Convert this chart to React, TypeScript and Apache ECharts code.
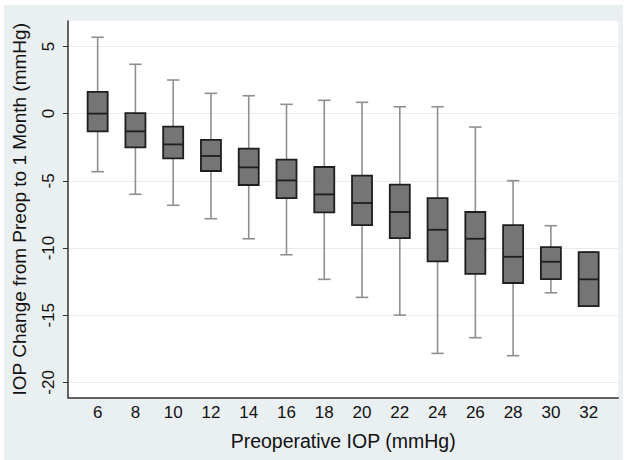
import React, { useEffect, useRef } from "react";
import * as echarts from "echarts";

// Preoperative IOP groups (mmHg)
const categories = [6, 8, 10, 12, 14, 16, 18, 20, 22, 24, 26, 28, 30, 32];
// IOP change (mmHg) box statistics per group
const lowerWhisker = [-4.32, -6.0, -6.82, -7.82, -9.31, -10.5, -12.33, -13.67, -14.99, -17.84, -16.67, -18.01, -13.33, -14.32];
const q1 = [-1.32, -2.51, -3.33, -4.27, -5.31, -6.28, -7.35, -8.29, -9.26, -10.99, -11.93, -12.6, -12.31, -14.32];
const median = [0.0, -1.32, -2.29, -3.15, -4.0, -4.97, -6.01, -6.65, -7.32, -8.64, -9.31, -10.65, -11.02, -12.33];
const q3 = [1.61, 0.04, -0.97, -1.96, -2.61, -3.43, -3.97, -4.62, -5.29, -6.28, -7.32, -8.29, -9.93, -10.3];
const upperWhisker = [5.68, 3.67, 2.5, 1.51, 1.33, 0.69, 0.99, 0.84, 0.51, 0.51, -1.0, -4.99, -8.34, -10.3];
const yTicks = [-20, -15, -10, -5, 0, 5];

const FONT = "'Liberation Sans', Arial, Helvetica, sans-serif";

export default function App() {
  const ref = useRef<HTMLDivElement>(null);

  useEffect(() => {
    if (!ref.current) return;
    const chart = echarts.init(ref.current, undefined, { renderer: "svg" });
    const data = categories.map((c, i) => [c, lowerWhisker[i], q1[i], median[i], q3[i], upperWhisker[i]]);

    chart.setOption({
      animation: false,
      backgroundColor: "transparent",
      textStyle: { fontFamily: FONT },
      graphic: [
        {
          type: "rect",
          z: -10,
          silent: true,
          shape: { x: 4, y: 5, width: 619, height: 455 },
          style: { fill: "#eaeff2" },
        },
      ],
      grid: {
        left: 68,
        right: 9.7,
        top: 21,
        bottom: 62.5,
        show: true,
        backgroundColor: "#ffffff",
        borderWidth: 0,
      },
      xAxis: {
        type: "value",
        min: 4.43,
        max: 33.57,
        name: "Preoperative IOP (mmHg)",
        nameLocation: "middle",
        nameGap: 33,
        nameTextStyle: { fontSize: 19.5, color: "#111", fontFamily: FONT },
        axisLine: { show: true, onZero: false, lineStyle: { color: "#333", width: 1.5 } },
        axisTick: { show: false },
        splitLine: { show: false },
        axisLabel: {
          customValues: categories,
          fontSize: 17,
          color: "#111",
          margin: 6,
          fontFamily: FONT,
        },
      },
      yAxis: {
        type: "value",
        min: -21.12,
        max: 6.89,
        name: "IOP Change from Preop to 1 Month (mmHg)",
        nameLocation: "middle",
        nameRotate: 90,
        nameGap: 39,
        nameTextStyle: { fontSize: 19, color: "#111", fontFamily: FONT },
        axisLine: { show: true, onZero: false, lineStyle: { color: "#333", width: 1.5 } },
        axisTick: { show: true, length: 5, customValues: yTicks, lineStyle: { color: "#333" } },
        splitLine: { show: true, lineStyle: { color: "#e6ecef", width: 1.2 } },
        axisLabel: {
          customValues: yTicks,
          rotate: 90,
          fontSize: 17,
          color: "#111",
          margin: 11,
          fontFamily: FONT,
        },
      },
      series: [
        {
          type: "custom",
          data,
          encode: { x: 0, y: [1, 2, 3, 4, 5] },
          renderItem: (params: any, api: any) => {
            const x = api.value(0);
            const lo = api.coord([x, api.value(1)]);
            const b1 = api.coord([x, api.value(2)]);
            const md = api.coord([x, api.value(3)]);
            const b3 = api.coord([x, api.value(4)]);
            const hi = api.coord([x, api.value(5)]);
            const unit = api.size([1, 0])[0];
            const halfW = unit * 0.53;
            const capHalf = unit * 0.33;
            const cx = lo[0];
            const whisk = { stroke: "#8f8f8f", lineWidth: 1.6 };
            return {
              type: "group",
              children: [
                { type: "line", shape: { x1: cx, y1: hi[1], x2: cx, y2: b3[1] }, style: whisk },
                { type: "line", shape: { x1: cx, y1: b1[1], x2: cx, y2: lo[1] }, style: whisk },
                { type: "line", shape: { x1: cx - capHalf, y1: hi[1], x2: cx + capHalf, y2: hi[1] }, style: whisk },
                { type: "line", shape: { x1: cx - capHalf, y1: lo[1], x2: cx + capHalf, y2: lo[1] }, style: whisk },
                {
                  type: "rect",
                  shape: { x: cx - halfW, y: b3[1], width: halfW * 2, height: b1[1] - b3[1] },
                  style: { fill: "#757575", stroke: "#1e1e1e", lineWidth: 1.8 },
                },
                {
                  type: "line",
                  shape: { x1: cx - halfW, y1: md[1], x2: cx + halfW, y2: md[1] },
                  style: { stroke: "#1e1e1e", lineWidth: 1.8 },
                },
              ],
            };
          },
        },
      ],
    });

    return () => chart.dispose();
  }, []);

  return (
    <div
      style={{ position: "absolute", left: 0, top: 0, width: 628, height: 460, background: "#ffffff" }}
    >
      <div ref={ref} style={{ width: 628, height: 460 }} />
    </div>
  );
}
